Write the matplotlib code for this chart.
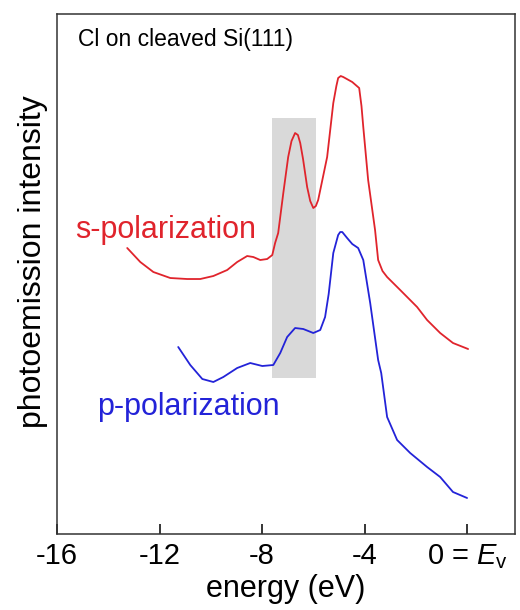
import matplotlib
matplotlib.use("Agg")
import matplotlib.pyplot as plt
from matplotlib.patches import Rectangle

plt.rcParams['font.family'] = ['Liberation Sans', 'DejaVu Sans']
plt.rcParams['mathtext.fontset'] = 'custom'
plt.rcParams['mathtext.rm'] = 'Liberation Sans'
plt.rcParams['mathtext.it'] = 'Liberation Sans:italic'

# s-polarization spectrum (energy in eV, intensity arb. units)
s_energy = [-13.26, -12.75, -12.24, -11.58, -10.92, -10.41, -9.90, -9.36, -8.97, -8.58,
            -8.34, -8.07, -7.80, -7.60, -7.49, -7.37, -7.17, -6.98, -6.85, -6.71,
            -6.60, -6.51, -6.40, -6.24, -6.12, -6.00, -5.90, -5.81, -5.46, -5.22,
            -5.10, -5.03, -4.93, -4.83, -4.48, -4.21, -4.12, -4.05, -3.86, -3.59,
            -3.47, -3.30, -3.12, -2.61, -1.95, -1.56, -1.05, -0.55, 0.04]
s_int = [286, 272, 262, 256, 255, 255, 258, 264, 272, 278,
         277, 274, 275, 279, 291, 301, 341, 377, 393, 401,
         399, 391, 375, 347, 333, 326, 328, 334, 377, 431,
         448, 456, 458, 457, 452, 446, 428, 407, 354, 304,
         274, 263, 257, 244, 227, 214, 201, 191, 185]

# p-polarization spectrum
p_energy = [-11.27, -10.80, -10.33, -9.90, -9.51, -8.97, -8.46, -7.99, -7.56, -7.29,
            -7.02, -6.71, -6.39, -6.00, -5.73, -5.54, -5.40, -5.22, -5.03, -4.95,
            -4.87, -4.68, -4.48, -4.25, -4.05, -3.78, -3.47, -3.35, -3.12, -2.73,
            -2.22, -1.56, -1.05, -0.55, 0.0]
p_int = [187, 169, 155, 152, 157, 166, 171, 168, 169, 181,
         197, 206, 205, 201, 204, 217, 240, 281, 299, 302,
         302, 296, 290, 286, 274, 231, 174, 161, 117, 94,
         81, 67, 57, 42, 36]

# highlighted energy window
band_lo, band_hi = -7.60, -5.89
band_bottom, band_top = 156, 416

xticks = [-16, -12, -8, -4, 0]
xticklabels = ['-16', '-12', '-8', '-4', r'0 = $\mathit{E}_\mathrm{v}$']

fig = plt.figure(figsize=(5.2, 6.1), dpi=100)
ax = fig.add_axes([0.1096, 0.1246, 0.8808, 0.8524])

ax.add_patch(Rectangle((band_lo, band_bottom), band_hi - band_lo, band_top - band_bottom,
                       facecolor='#d9d9d9', edgecolor='none', zorder=1))
ax.plot(s_energy, s_int, color='#e0242c', lw=1.3, zorder=2,
        solid_joinstyle='round', solid_capstyle='round')
ax.plot(p_energy, p_int, color='#2323d8', lw=1.3, zorder=2,
        solid_joinstyle='round', solid_capstyle='round')

ax.text(-15.17, 495, 'Cl on cleaved Si(111)', fontsize=16.5, va='center', ha='left')
ax.text(-15.28, 304, 's-polarization', fontsize=22, color='#e0242c', va='center', ha='left')
ax.text(-14.42, 127, 'p-polarization', fontsize=22, color='#2323d8', va='center', ha='left')

ax.set_xlim(-16, 1.87)
ax.set_ylim(0, 520)
ax.set_xticks(xticks)
ax.set_xticklabels(xticklabels, fontsize=21)
ax.set_yticks([])
ax.tick_params(axis='x', direction='in', length=7, width=1.1, pad=6)
for sp in ax.spines.values():
    sp.set_linewidth(1.1)
    sp.set_color('#333333')

ax.set_xlabel('energy (eV)', fontsize=22, labelpad=2)
ax.set_ylabel('photoemission intensity', fontsize=23)
ax.yaxis.set_label_coords(-0.02, 0.523)

fig.savefig('out.png', dpi=100)
